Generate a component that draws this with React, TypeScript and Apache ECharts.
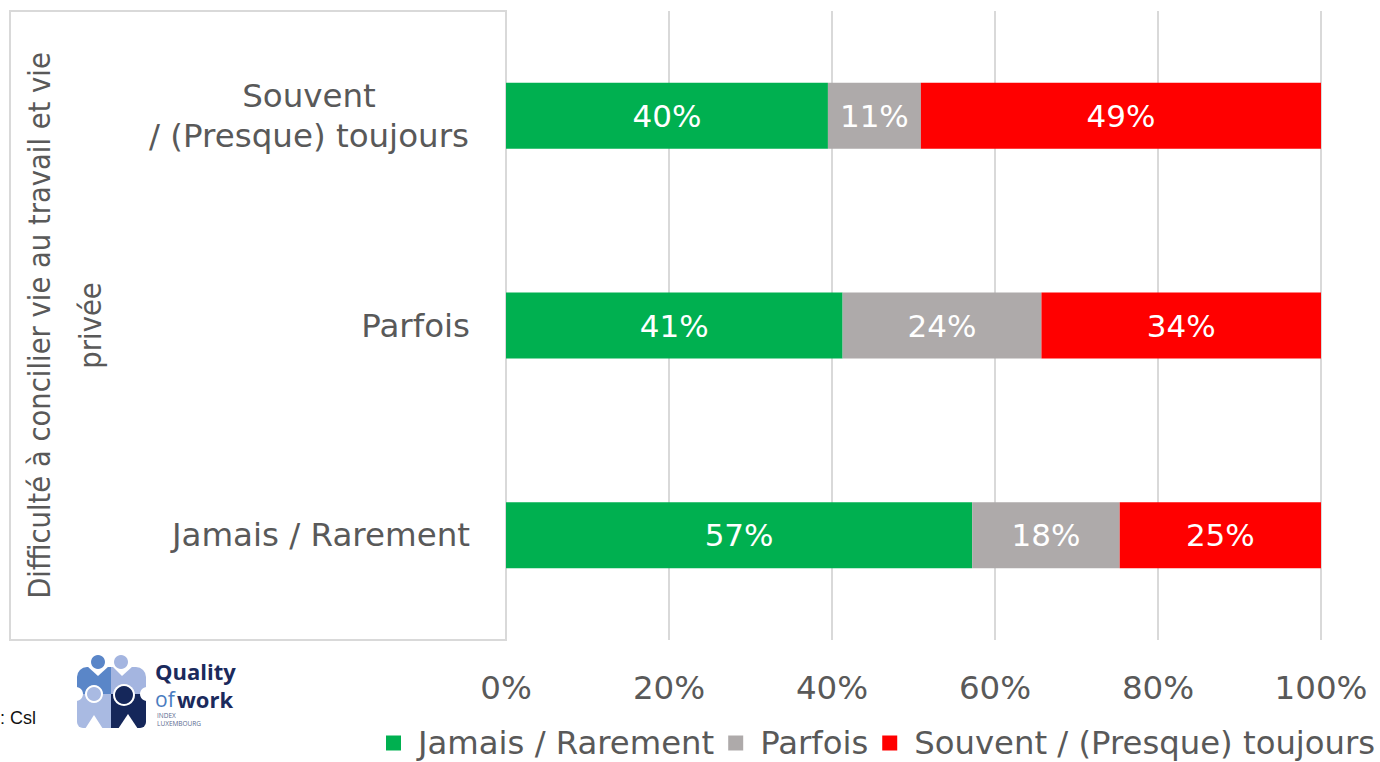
import React, { useEffect, useRef } from "react";
import * as echarts from "echarts";

const categories = ["Jamais / Rarement", "Parfois", "Souvent / (Presque) toujours"];
const seriesNames = ["Jamais / Rarement", "Parfois", "Souvent / (Presque) toujours"];
const jamaisValues = [57.2, 41.3, 39.5];
const parfoisValues = [18.1, 24.4, 11.4];
const souventValues = [24.7, 34.3, 49.1];
const xTicks = [0, 20, 40, 60, 80, 100];
const yTitle = "Difficulté à concilier vie au travail et vie\nprivée";
const colors = ["#00B050", "#AEAAAA", "#FF0000"];

const FONT = "'DejaVu Sans', 'Open Sans', sans-serif";
const FONT_COND = "'DejaVu Sans Condensed', 'DejaVu Sans', sans-serif";
const TEXT = "#595959";

export default function App() {
  const ref = useRef<HTMLDivElement>(null);
  useEffect(() => {
    if (!ref.current) return;
    const chart = echarts.init(ref.current, undefined, { renderer: "svg" });
    const values = [jamaisValues, parfoisValues, souventValues];
    const option: any = {
      animation: false,
      backgroundColor: "#ffffff",
      textStyle: { fontFamily: FONT },
      grid: { left: 506, right: 59, top: 11, bottom: 122, containLabel: false },
      legend: {
        data: seriesNames,
        left: 381,
        top: 722,
        width: 1200,
        icon: "rect",
        itemWidth: 15,
        itemHeight: 15,
        itemGap: 14,
        textStyle: { fontSize: 32.3, lineHeight: 30, color: TEXT, fontFamily: FONT, padding: [0, 0, 0, 12] },
      },
      xAxis: {
        type: "value",
        min: xTicks[0],
        max: xTicks[xTicks.length - 1],
        interval: 20,
        axisLine: { show: false },
        axisTick: { show: false },
        splitLine: { show: true, lineStyle: { color: "#D9D9D9", width: 2 } },
        axisLabel: { formatter: "{value}%", fontSize: 32.5, color: TEXT, margin: 31, fontFamily: FONT },
      },
      yAxis: {
        type: "category",
        data: categories,
        axisLine: { show: false },
        axisTick: { show: false },
        name: yTitle,
        nameLocation: "middle",
        nameRotate: 90,
        nameGap: 390,
        nameTextStyle: { fontSize: 30.5, color: TEXT, lineHeight: 51, fontFamily: FONT_COND, align: "center" },
        axisLabel: {
          margin: 36,
          fontSize: 32.5,
          color: TEXT,
          fontFamily: FONT,
          align: "right",
          formatter: (v: string) => {
            if (v === "Souvent / (Presque) toujours") return "{c|Souvent}\n{c|/ (Presque) toujours}";
            return v;
          },
          rich: {
            c: { width: 322, align: "center", fontSize: 32.5, color: TEXT, lineHeight: 40, fontFamily: FONT },
          },
        },
      },
      series: seriesNames.map((name, i) => ({
        name,
        type: "bar",
        stack: "total",
        barWidth: 66,
        data: values[i],
        itemStyle: { color: colors[i] },
        label: {
          show: true,
          position: "inside",
          color: "#ffffff",
          fontSize: 31,
          fontFamily: FONT,
          formatter: (p: any) => Math.round(p.value) + "%",
        },
      })),
      graphic: [
        {
          type: "rect",
          shape: { x: 10, y: 11, width: 496, height: 629 },
          style: { fill: "none", stroke: "#D9D9D9", lineWidth: 2 },
          silent: true,
          z: -1,
        },
        {
          type: "text",
          x: 0,
          y: 718,
          style: { text: ": Csl", fontSize: 18, fill: "#111", verticalAlign: "middle", fontFamily: "'Liberation Sans', Arial, sans-serif" },
        },
        {
          type: "group",
          children: [
            { type: "rect", shape: { x: 77, y: 667, width: 34, height: 27, r: [10, 0, 0, 0] }, style: { fill: "#5A86C8" } },
            { type: "rect", shape: { x: 111, y: 667, width: 35, height: 27, r: [0, 10, 0, 0] }, style: { fill: "#A4B5E0" } },
            { type: "rect", shape: { x: 77, y: 694, width: 34, height: 34, r: [0, 0, 0, 6] }, style: { fill: "#A9BAE2" } },
            { type: "rect", shape: { x: 111, y: 694, width: 35, height: 34, r: [0, 0, 6, 0] }, style: { fill: "#15275A" } },
            { type: "polygon", shape: { points: [[87, 666], [109, 666], [98, 676]] }, style: { fill: "#fff" } },
            { type: "polygon", shape: { points: [[112, 666], [133, 666], [122, 676]] }, style: { fill: "#fff" } },
            { type: "polygon", shape: { points: [[85, 729], [103, 729], [94, 715]] }, style: { fill: "#fff" } },
            { type: "polygon", shape: { points: [[118, 729], [138, 729], [128, 714]] }, style: { fill: "#fff" } },
            { type: "circle", shape: { cx: 76, cy: 694, r: 7 }, style: { fill: "#fff" } },
            { type: "circle", shape: { cx: 147, cy: 694, r: 7 }, style: { fill: "#fff" } },
            { type: "circle", shape: { cx: 98, cy: 662, r: 7 }, style: { fill: "#5A86C8" } },
            { type: "circle", shape: { cx: 121, cy: 662, r: 7 }, style: { fill: "#A4B5E0" } },
            { type: "circle", shape: { cx: 94, cy: 694, r: 9 }, style: { fill: "#fff" } },
            { type: "circle", shape: { cx: 94, cy: 694, r: 7 }, style: { fill: "#A9BAE2" } },
            { type: "circle", shape: { cx: 124, cy: 695, r: 11 }, style: { fill: "#fff" } },
            { type: "circle", shape: { cx: 124, cy: 695, r: 9 }, style: { fill: "#15275A" } },
            { type: "text", x: 155, y: 671, style: { text: "Quality", fontSize: 22, lineHeight: 22, fontWeight: "bold", fill: "#1B2A5C", verticalAlign: "middle", fontFamily: "'Open Sans', sans-serif" } },
            { type: "text", x: 155, y: 699, style: { text: "of", fontSize: 21, lineHeight: 21, fontWeight: "normal", fill: "#4A7CC0", verticalAlign: "middle", fontFamily: "'Open Sans', sans-serif" } },
            { type: "text", x: 177, y: 699, style: { text: "work", fontSize: 22, lineHeight: 22, fontWeight: "bold", fill: "#1B2A5C", verticalAlign: "middle", fontFamily: "'Open Sans', sans-serif" } },
            { type: "text", x: 157, y: 715, style: { text: "INDEX", fontSize: 6.5, lineHeight: 7, fill: "#5A6A90", verticalAlign: "middle", fontFamily: "'Open Sans', sans-serif" } },
            { type: "text", x: 157, y: 723, style: { text: "LUXEMBOURG", fontSize: 6.5, lineHeight: 7, fill: "#5A6A90", verticalAlign: "middle", fontFamily: "'Open Sans', sans-serif" } },
          ],
        },
      ],
    };
    chart.setOption(option);
    return () => chart.dispose();
  }, []);
  return <div ref={ref} style={{ width: 1380, height: 762, position: "absolute", left: 0, top: 0 }} />;
}
